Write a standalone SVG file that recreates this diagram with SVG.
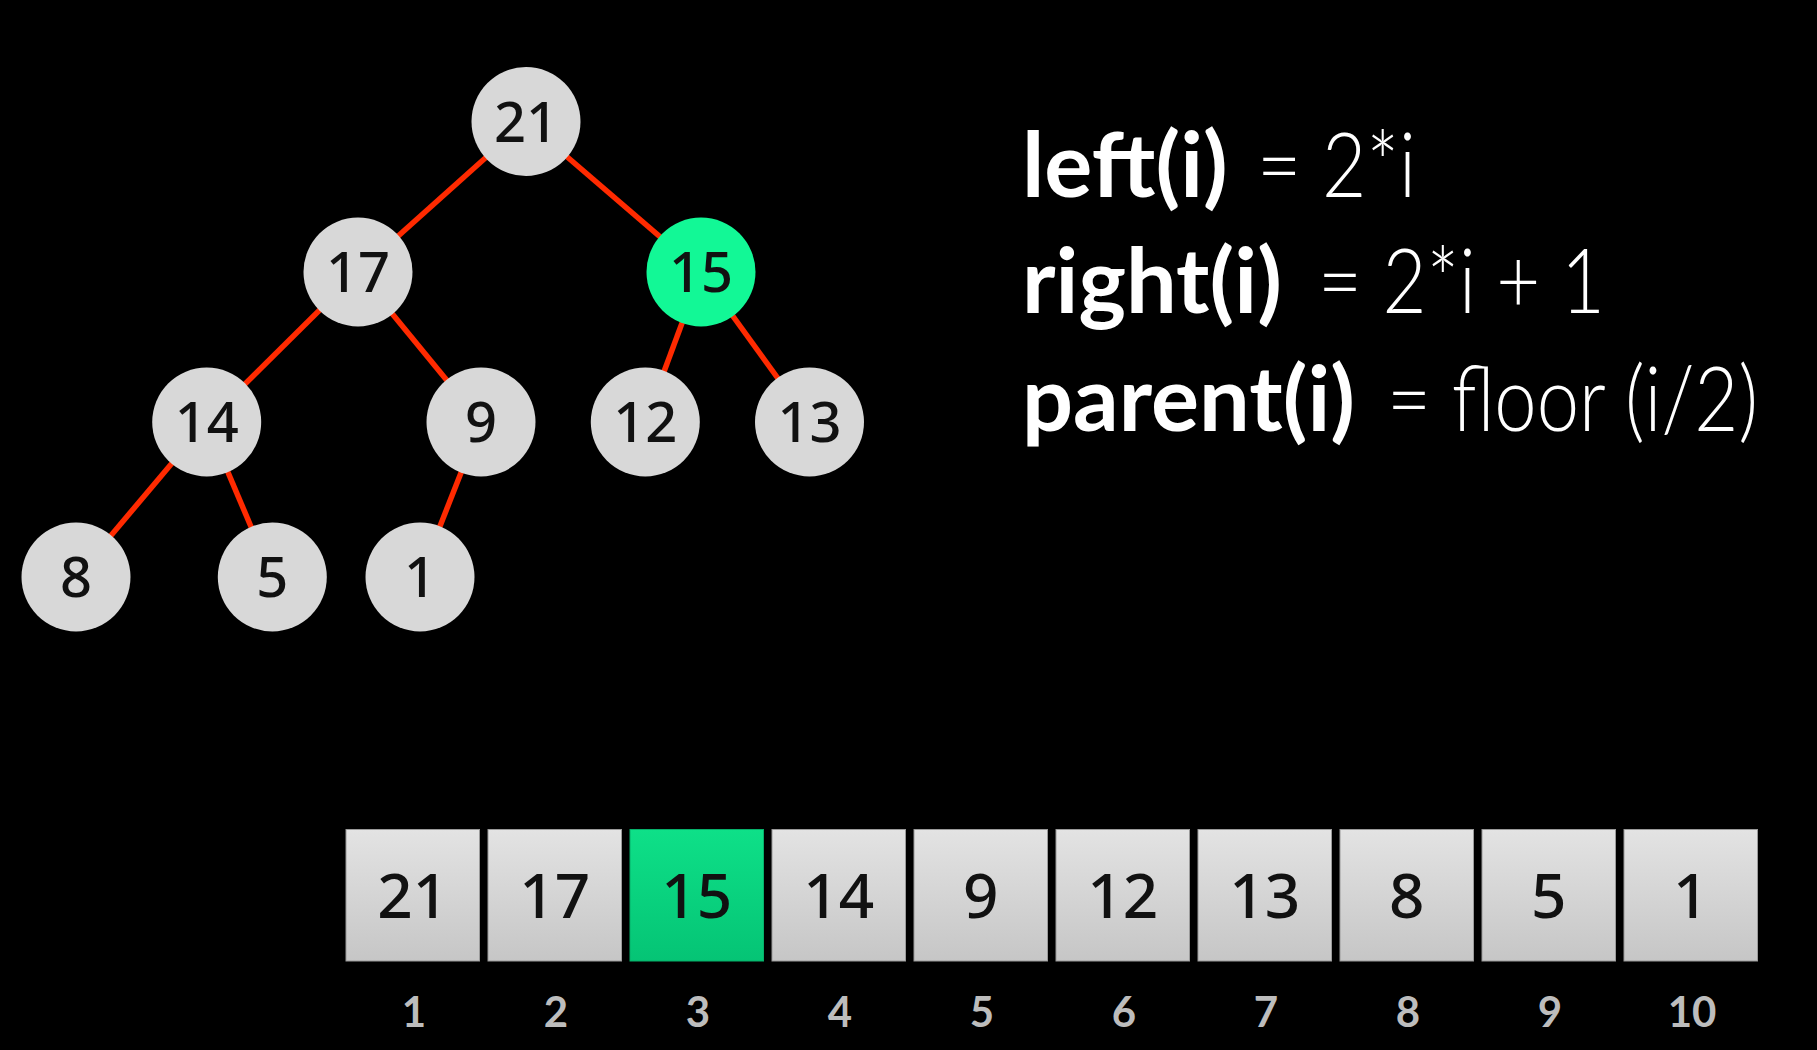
<svg xmlns="http://www.w3.org/2000/svg" width="1817" height="1050" viewBox="0 0 1817 1050">
<defs>
<linearGradient id="gGray" x1="0" y1="0" x2="0" y2="1"><stop offset="0" stop-color="#e3e3e3"/><stop offset="1" stop-color="#c6c6c6"/></linearGradient>
<linearGradient id="gGreen" x1="0" y1="0" x2="0" y2="1"><stop offset="0" stop-color="#0ee088"/><stop offset="1" stop-color="#05c475"/></linearGradient>
</defs>
<style>
.edge{stroke:#ff2a00;stroke-width:5.5;fill:none}
.node{fill:#d8d8d8}
.hl{fill:#12f896}
.nt{font-family:"Noto Sans","DejaVu Sans",sans-serif;font-weight:500;font-size:56px;fill:#111;text-anchor:middle}
.box{fill:url(#gGray);stroke:#9a9a9a;stroke-width:1}
.boxg{fill:url(#gGreen);stroke:#06b06a;stroke-width:1}
.bt{font-family:"Noto Sans","DejaVu Sans",sans-serif;font-weight:500;font-size:62px;fill:#111;text-anchor:middle}
.idx{font-family:"Lato","Open Sans",sans-serif;font-weight:700;font-size:42px;fill:#bdbdbd;text-anchor:middle}
.f{font-family:"Lato","Open Sans",sans-serif;font-size:90px;fill:#fff}
.fb{font-weight:700}
.fl{font-weight:300}
</style>
<rect x="0" y="0" width="1817" height="1050" fill="#000"/>
<g id="connectors">
<line class="edge" x1="526" y1="121.5" x2="358" y2="272"/>
<line class="edge" x1="526" y1="121.5" x2="701" y2="272"/>
<line class="edge" x1="358" y1="272" x2="206.7" y2="422"/>
<line class="edge" x1="358" y1="272" x2="481" y2="422"/>
<line class="edge" x1="701" y1="272" x2="645.3" y2="422"/>
<line class="edge" x1="701" y1="272" x2="809.5" y2="422"/>
<line class="edge" x1="206.7" y1="422" x2="76" y2="577"/>
<line class="edge" x1="206.7" y1="422" x2="272.3" y2="577"/>
<line class="edge" x1="481" y1="422" x2="420" y2="577"/>
</g>
<g id="node-21"><circle class="node" cx="526" cy="121.5" r="54.5"/><text class="nt" x="526" y="141.5">21</text></g>
<g id="node-17"><circle class="node" cx="358" cy="272" r="54.5"/><text class="nt" x="358" y="292">17</text></g>
<g id="node-15"><circle class="hl" cx="701" cy="272" r="54.5"/><text class="nt" x="701" y="292">15</text></g>
<g id="node-14"><circle class="node" cx="206.7" cy="422" r="54.5"/><text class="nt" x="206.7" y="442">14</text></g>
<g id="node-9"><circle class="node" cx="481" cy="422" r="54.5"/><text class="nt" x="481" y="442">9</text></g>
<g id="node-12"><circle class="node" cx="645.3" cy="422" r="54.5"/><text class="nt" x="645.3" y="442">12</text></g>
<g id="node-13"><circle class="node" cx="809.5" cy="422" r="54.5"/><text class="nt" x="809.5" y="442">13</text></g>
<g id="node-8"><circle class="node" cx="76" cy="577" r="54.5"/><text class="nt" x="76" y="597">8</text></g>
<g id="node-5"><circle class="node" cx="272.3" cy="577" r="54.5"/><text class="nt" x="272.3" y="597">5</text></g>
<g id="node-1"><circle class="node" cx="420" cy="577" r="54.5"/><text class="nt" x="420" y="597">1</text></g>
<g id="formulas">
<text class="f fb" x="1022" y="197">left(i)</text>
<text class="f fl" x="1257" y="197" textLength="159" lengthAdjust="spacingAndGlyphs">= 2*i</text>
<text class="f fb" x="1022" y="313">right(i)</text>
<text class="f fl" x="1318" y="313" textLength="287" lengthAdjust="spacingAndGlyphs">= 2*i + 1</text>
<text class="f fb" x="1022" y="431">parent(i)</text>
<text class="f fl" x="1387" y="431" textLength="371" lengthAdjust="spacingAndGlyphs">= floor (i/2)</text>
</g>
<g id="array">
<g id="cell-1"><rect class="box" x="346" y="829.5" width="133.5" height="131.5"/><text class="bt" x="412.75" y="917.5">21</text><text class="idx" x="414" y="1027">1</text></g>
<g id="cell-2"><rect class="box" x="488" y="829.5" width="133.5" height="131.5"/><text class="bt" x="554.75" y="917.5">17</text><text class="idx" x="556" y="1027">2</text></g>
<g id="cell-3"><rect class="boxg" x="630" y="829.5" width="133.5" height="131.5"/><text class="bt" x="696.75" y="917.5">15</text><text class="idx" x="698" y="1027">3</text></g>
<g id="cell-4"><rect class="box" x="772" y="829.5" width="133.5" height="131.5"/><text class="bt" x="838.75" y="917.5">14</text><text class="idx" x="840" y="1027">4</text></g>
<g id="cell-5"><rect class="box" x="914" y="829.5" width="133.5" height="131.5"/><text class="bt" x="980.75" y="917.5">9</text><text class="idx" x="982" y="1027">5</text></g>
<g id="cell-6"><rect class="box" x="1056" y="829.5" width="133.5" height="131.5"/><text class="bt" x="1122.75" y="917.5">12</text><text class="idx" x="1124" y="1027">6</text></g>
<g id="cell-7"><rect class="box" x="1198" y="829.5" width="133.5" height="131.5"/><text class="bt" x="1264.75" y="917.5">13</text><text class="idx" x="1266" y="1027">7</text></g>
<g id="cell-8"><rect class="box" x="1340" y="829.5" width="133.5" height="131.5"/><text class="bt" x="1406.75" y="917.5">8</text><text class="idx" x="1408" y="1027">8</text></g>
<g id="cell-9"><rect class="box" x="1482" y="829.5" width="133.5" height="131.5"/><text class="bt" x="1548.75" y="917.5">5</text><text class="idx" x="1550" y="1027">9</text></g>
<g id="cell-10"><rect class="box" x="1624" y="829.5" width="133.5" height="131.5"/><text class="bt" x="1690.75" y="917.5">1</text><text class="idx" x="1692" y="1027">10</text></g>
</g>
</svg>
